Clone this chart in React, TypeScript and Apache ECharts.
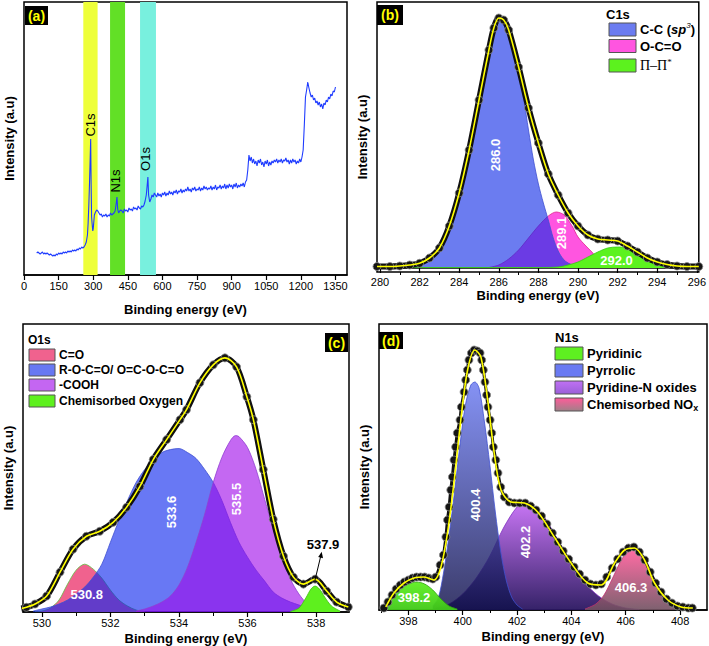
import React, { useEffect, useRef } from "react";
import * as echarts from "echarts";

const FONT = "'Liberation Sans', Arial, Helvetica, sans-serif";

// ---------- (a) survey spectrum ----------
const surveySpectrum: [number, number][] = [
  [55,22],[60,23],[65,22],[70,21],[75,22],[80,23],[85,21],[90,22],[95,21],[100,22],[105,21],[110,20],[115,21],[120,20],[125,19],[130,20],[135,19],[140,21],[145,20],[150,22],[155,21],[160,22],[165,21],[170,23],[175,22],[180,23],[185,22],[190,24],[195,23],[200,24],[205,23],[210,25],[215,24],[220,25],[225,24],[230,26],[235,25],[240,27],[245,26],[250,28],[255,27],[260,28],[265,30],[270,33],[275,40],[278,52],[281,70],[284,92],[287,118],[289,136],[291,90],[293,58],[295,52],[298,44],[300,46],[305,60],[310,63],[315,65],[320,64],[325,62],[330,60],[335,61],[340,58],[345,60],[350,59],[355,61],[360,58],[365,60],[370,59],[375,62],[380,60],[385,61],[390,62],[395,64],[400,72],[403,78],[406,66],[410,62],[415,64],[420,65],[425,64],[430,62],[435,66],[440,64],[445,65],[450,63],[455,67],[460,65],[465,66],[470,64],[475,68],[480,66],[485,67],[490,65],[495,69],[500,67],[505,66],[510,69],[515,68],[520,70],[525,74],[530,80],[534,90],[537,98],[540,80],[545,73],[550,76],[555,80],[560,78],[565,82],[570,80],[575,78],[580,82],[585,79],[590,81],[595,78],[600,82],[605,80],[610,83],[615,79],[620,82],[625,80],[630,84],[635,81],[640,83],[645,80],[650,84],[655,82],[660,85],[665,81],[670,84],[675,83],[680,86],[685,82],[690,85],[695,83],[700,86],[705,84],[710,88],[715,84],[720,86],[725,83],[730,87],[735,85],[740,88],[745,84],[750,86],[755,85],[760,88],[765,84],[770,87],[775,85],[780,89],[785,86],[790,88],[795,85],[800,87],[805,86],[810,89],[815,85],[820,88],[825,86],[830,90],[835,85],[840,88],[845,87],[850,90],[855,86],[860,89],[865,87],[870,91],[875,86],[880,90],[885,87],[890,91],[895,88],[900,90],[905,86],[910,91],[915,88],[920,92],[925,87],[930,90],[935,88],[940,91],[945,89],[950,92],[955,88],[960,93],[965,95],[970,105],[975,120],[980,114],[985,118],[990,112],[995,116],[1000,111],[1005,114],[1010,109],[1015,115],[1020,112],[1025,116],[1030,110],[1035,113],[1040,108],[1045,114],[1050,111],[1055,115],[1060,109],[1065,113],[1070,110],[1075,114],[1080,112],[1085,115],[1090,113],[1095,116],[1100,112],[1105,115],[1110,113],[1115,116],[1120,112],[1125,115],[1130,114],[1135,117],[1140,113],[1145,115],[1150,111],[1155,115],[1160,112],[1165,116],[1170,113],[1175,115],[1180,111],[1185,114],[1190,112],[1195,116],[1200,113],[1205,118],[1210,125],[1215,150],[1220,178],[1225,185],[1230,193],[1235,187],[1240,182],[1245,178],[1250,180],[1255,175],[1260,177],[1265,172],[1270,174],[1275,170],[1280,173],[1285,168],[1290,171],[1295,166],[1300,172],[1305,170],[1310,175],[1315,173],[1320,178],[1325,176],[1330,181],[1335,179],[1340,184],[1345,183],[1350,188]
];
const surveyBands: [number, number][] = [[257, 319], [373, 438], [503, 572]];
const surveyBandNames = ["C1s", "N1s", "O1s"];
const surveyTicks = [0, 150, 300, 450, 600, 750, 900, 1050, 1200, 1350];

// ---------- (b) C1s ----------
const c1sEnvelope: [number, number][] = [
  [279.85,1.5],[280.5,1.5],[281,2],[281.5,3],[282,4.7],[282.5,10],[283,20],[283.5,42],[284,75],[284.5,118],[285,168],[285.5,218],[285.75,240],[286,250],[286.25,248],[286.5,238],[287,201],[287.5,160],[288,125],[288.5,94],[289,73],[289.5,55],[290,42],[290.5,33],[291,29],[291.5,28],[292,27],[292.5,22],[293,16],[293.5,10],[294,6],[294.5,3.5],[295,2],[295.5,1.5],[296.1,1.5]
];
const c1sCC: [number, number][] = [
  [279.85,1],[281,1.5],[282,4],[282.5,9],[283,19],[283.5,41],[284,74],[284.5,117],[285,167],[285.5,216],[286,248],[286.5,234],[287,196],[287.25,170],[287.5,138],[287.75,108],[288,84],[288.25,65],[288.5,48],[288.75,30],[289,17],[289.25,9],[289.5,5],[290,1.5],[290.5,0.5],[296.1,0.5]
];
const c1sOCO: [number, number][] = [
  [285.5,0.5],[286,3],[286.5,9],[287,18],[287.5,30],[288,42],[288.5,52],[288.9,56],[289.3,53],[289.7,42],[290,31],[290.4,22],[290.7,16],[291,9],[291.3,4],[291.6,1],[292,0]
];
const c1sPiPi: [number, number][] = [
  [279.85,0.5],[288,0.5],[289,1],[289.5,3],[290,6],[290.5,11],[291,16],[291.5,20],[292,21],[292.5,20],[293,15],[293.5,8],[294,3],[294.5,1],[295,0.5],[296.1,0.5]
];
const c1sTicks = [280, 282, 284, 286, 288, 290, 292, 294, 296];
const c1sMinorTicks = [281, 283, 285, 287, 289, 291, 293, 295];

// ---------- (c) O1s ----------
const o1sEnvelope: [number, number][] = [
  [529.4,3.5],[529.55,4.7],[529.8,8],[530.14,16],[530.53,40],[530.91,63],[531.3,76],[531.69,81],[532.08,90],[532.47,105],[532.86,126],[533.25,153],[533.64,173],[534.03,193],[534.22,203],[534.61,230],[535.0,248],[535.34,255],[535.68,246],[535.98,216],[536.17,193],[536.46,143],[536.75,93],[537.05,56],[537.34,35],[537.63,28],[537.97,33],[538.31,21],[538.6,10],[538.94,5]
];
const o1sCO: [number, number][] = [
  [529.8,0.5],[530.0,1],[530.25,4],[530.5,12],[530.75,28],[531.0,42],[531.25,48],[531.5,43],[531.75,34],[532.0,22],[532.25,12],[532.5,6],[532.75,2],[533.0,0.5]
];
const o1sROCO: [number, number][] = [
  [529.75,1],[530.0,3],[530.25,5],[530.5,8],[530.75,12],[531.0,18],[531.25,25],[531.5,35],[531.75,48],[532.0,70],[532.25,92],[532.5,112],[532.75,130],[533.0,143],[533.25,153],[533.5,160],[533.75,163],[534.0,164],[534.25,160],[534.5,154],[534.75,143],[535.0,130],[535.25,112],[535.5,90],[535.75,70],[536.0,55],[536.25,42],[536.5,31],[536.75,20],[537.0,14],[537.25,10],[537.5,7],[537.75,4],[538.0,2],[538.25,1]
];
const o1sCOOH: [number, number][] = [
  [532.75,1],[533.0,3],[533.25,6],[533.5,10],[533.75,16],[534.0,27],[534.25,45],[534.5,70],[534.75,98],[535.0,130],[535.25,155],[535.5,172],[535.65,177],[535.75,176],[536.0,165],[536.25,143],[536.5,113],[536.75,83],[537.0,55],[537.25,33],[537.5,18],[537.75,8],[538.0,3],[538.25,1]
];
const o1sChemO: [number, number][] = [
  [537.25,0.5],[537.5,4],[537.7,14],[537.85,23],[537.97,26],[538.1,23],[538.25,15],[538.45,6],[538.7,1]
];
const o1sTicks = [530, 532, 534, 536, 538];
const o1sMinorTicks = [531, 533, 535, 537];

// ---------- (d) N1s ----------
const n1sMeasured: [number, number][] = [
  [397.1,2],[397.25,8],[397.4,15],[397.55,21],[397.7,25],[397.85,28],[398.0,30],[398.15,32],[398.3,33],[398.45,33],[398.6,33],[398.75,32],[398.9,31],[399.01,33],[399.17,45],[399.29,55],[399.38,73],[399.44,90],[399.5,103],[399.56,120],[399.62,133],[399.68,150],[399.74,163],[399.8,177],[399.9,190],[399.95,203],[400.05,218],[400.11,230],[400.17,240],[400.23,250],[400.32,257],[400.42,260],[400.54,259],[400.64,257],[400.7,250],[400.76,240],[400.82,228],[400.88,215],[400.93,203],[401.01,190],[401.07,177],[401.13,163],[401.22,150],[401.3,137],[401.4,123],[401.53,113],[401.71,108],[401.9,107],[402.1,107],[402.3,107],[402.5,104],[402.7,100],[402.9,94],[403.1,86],[403.3,77],[403.5,68],[403.7,59],[403.9,51],[404.1,43],[404.3,36],[404.5,30],[404.7,26],[404.9,25],[405.1,26],[405.3,33],[405.5,42],[405.7,51],[405.9,58],[406.1,62],[406.3,63],[406.5,58],[406.7,50],[406.9,38],[407.1,27],[407.3,18],[407.5,11],[407.7,7],[407.9,4],[408.1,3],[408.3,2],[408.45,2]
];
const n1sFit: [number, number][] = [
  [397.17,3],[397.47,17],[397.84,27],[398.21,32],[398.58,33],[398.95,30],[399.2,43],[399.44,77],[399.69,130],[399.93,190],[400.18,240],[400.45,260],[400.67,253],[400.92,210],[401.16,157],[401.41,120],[401.78,108],[402.27,107],[402.76,98],[403.37,73],[403.99,47],[404.6,27],[405.1,25],[405.59,47],[405.96,60],[406.32,62],[406.69,50],[407.06,27],[407.55,10],[408.04,3],[408.47,2]
];
const n1sPyridinic: [number, number][] = [
  [397.15,10],[397.4,15],[397.7,22],[398.0,26],[398.3,28],[398.6,26],[398.9,20],[399.2,11],[399.5,4],[399.8,1]
];
const n1sPyrrolic: [number, number][] = [
  [398.9,4],[399.1,12],[399.3,38],[399.5,75],[399.7,118],[399.9,165],[400.1,205],[400.3,225],[400.45,228],[400.6,222],[400.8,188],[401.0,145],[401.2,98],[401.4,58],[401.6,30],[401.8,13],[402.0,5],[402.2,1]
];
const n1sOxides: [number, number][] = [
  [399.0,2],[399.5,6],[400.0,16],[400.5,32],[401.0,54],[401.5,82],[402.0,103],[402.3,107],[402.6,104],[403.0,93],[403.5,70],[404.0,47],[404.5,27],[405.0,14],[405.5,6],[406.0,2],[406.5,0.5]
];
const n1sNOx: [number, number][] = [
  [404.5,1],[404.9,6],[405.2,15],[405.5,31],[405.8,48],[406.0,56],[406.3,60],[406.6,55],[406.9,40],[407.2,22],[407.5,10],[407.8,4],[408.2,1]
];
const n1sTicks = [398, 400, 402, 404, 406, 408];
const n1sMinorTicks = [397, 399, 401, 403, 405, 407];

// ---------- layout ----------
const grids = [
  { left: 24, top: 2, width: 323, height: 273 },
  { left: 377, top: 2, width: 326, height: 270 },
  { left: 23, top: 324, width: 326, height: 289 },
  { left: 379, top: 324, width: 328, height: 286 },
];

function xMain(gridIndex: number, min: number, max: number, ticks: number[], nameGap: number, margin = 5) {
  return {
    type: "value", gridIndex, min, max, position: "bottom",
    axisLine: { show: true, lineStyle: { color: "#000", width: 1.5 } },
    axisTick: { show: true, customValues: ticks, length: 5, lineStyle: { color: "#000", width: 1.2 } },
    axisLabel: { show: true, customValues: ticks, margin, color: "#000", fontSize: 11, fontFamily: FONT, formatter: (v: number) => String(v) },
    splitLine: { show: false },
    name: "Binding energy (eV)", nameLocation: "middle", nameGap,
    nameTextStyle: { color: "#000", fontSize: 13, fontWeight: "bold", fontFamily: FONT },
  };
}
function xMinor(gridIndex: number, min: number, max: number, ticks: number[]) {
  return {
    type: "value", gridIndex, min, max, position: "top", offset: -grids[gridIndex].height,
    axisLine: { show: false },
    axisTick: { show: ticks.length > 0, inside: true, customValues: ticks, length: 3, lineStyle: { color: "#000", width: 1 } },
    axisLabel: { show: false }, splitLine: { show: false },
  };
}
function yAxis(gridIndex: number, min: number, max: number) {
  return {
    type: "value", gridIndex, min, max,
    axisLine: { show: false }, axisTick: { show: false }, axisLabel: { show: false }, splitLine: { show: false },
    name: "Intensity (a.u)", nameLocation: "middle", nameGap: 8, nameRotate: 90,
    nameTextStyle: { color: "#000", fontSize: 13, fontWeight: "bold", fontFamily: FONT },
  };
}

function areaSeries(name: string, data: [number, number][], xi: number, yi: number, fill: any, opacity: number, line: string, z: number) {
  return {
    name, type: "line", data, xAxisIndex: xi, yAxisIndex: yi, smooth: 0.3,
    showSymbol: false, silent: true, z,
    lineStyle: { color: line, width: 0.8 },
    areaStyle: { color: fill, opacity },
  };
}
function measuredSeries(data: [number, number][], xi: number, yi: number, lineWidth: number, size: number) {
  return {
    name: "measured", type: "line", data, xAxisIndex: xi, yAxisIndex: yi, smooth: 0.3,
    showSymbol: true, symbol: "circle", symbolSize: size, silent: true, z: 8,
    lineStyle: { color: "#111", width: lineWidth },
    itemStyle: { color: "#151515", borderColor: "#8a8a8a", borderWidth: 0.8 },
  };
}
function fitSeries(data: [number, number][], xi: number, yi: number) {
  return {
    name: "fit", type: "line", data, xAxisIndex: xi, yAxisIndex: yi, smooth: 0.3,
    showSymbol: false, silent: true, z: 9, lineStyle: { color: "#ffff00", width: 1.6 },
  };
}
function grad(top: string, bottom: string) {
  return new echarts.graphic.LinearGradient(0, 0, 0, 1, [
    { offset: 0, color: top }, { offset: 1, color: bottom },
  ]);
}

function tag(x: number, y: number, w: number, h: number, t: string) {
  return {
    type: "group",
    children: [
      { type: "rect", shape: { x, y, width: w, height: h }, style: { fill: "#000" } },
      { type: "text", x: x + w / 2, y: y + h / 2, style: { text: t, fill: "#ffff00", font: `bold 14px ${FONT}`, align: "center", verticalAlign: "middle" } },
    ],
  };
}
function label(x: number, y: number, t: string, rotate: boolean, color = "#fff", size = 13, weight = "bold") {
  return {
    type: "text", x, y, rotation: rotate ? Math.PI / 2 : 0,
    style: { text: t, fill: color, font: `${weight} ${size}px ${FONT}`, align: "center", verticalAlign: "middle" },
    z: 100,
  };
}
function legendItem(x: number, y: number, w: number, h: number, fill: any, text: string, size: number, rich?: any, font?: string) {
  return [
    { type: "rect", shape: { x, y, width: w, height: h }, style: { fill, stroke: "#555", lineWidth: 1 }, z: 100 },
    { type: "text", x: x + w + 4, y: y + h / 2, z: 100,
      style: { text, fill: "#000", font: font || `bold ${size}px ${FONT}`, align: "left", verticalAlign: "middle", rich } },
  ];
}

export default function App() {
  const ref = useRef<HTMLDivElement>(null);
  useEffect(() => {
    if (!ref.current) return;
    const chart = echarts.init(ref.current, null, { renderer: "svg" });
    const bandColors = ["#eeff3a", "#62e026", "#78f0de"];
    const option: any = {
      animation: false,
      backgroundColor: "#fff",
      grid: grids.map((g) => ({ ...g, show: true, borderColor: "#000", borderWidth: 1.5, backgroundColor: "transparent", containLabel: false })),
      xAxis: [
        xMain(0, 0, 1400, surveyTicks, 28), xMinor(0, 0, 1400, []),
        xMain(1, 279.85, 296.1, c1sTicks, 17, 4), xMinor(1, 279.85, 296.1, c1sMinorTicks),
        xMain(2, 529.45, 538.96, o1sTicks, 20), xMinor(2, 529.45, 538.96, o1sMinorTicks),
        xMain(3, 396.92, 408.99, n1sTicks, 20), xMinor(3, 396.92, 408.99, n1sMinorTicks),
      ],
      yAxis: [yAxis(0, 0, 273), yAxis(1, -4, 266), yAxis(2, 0, 289), yAxis(3, 0, 286)],
      series: [
        {
          name: "bands", type: "line", data: surveySpectrum, xAxisIndex: 0, yAxisIndex: 0, showSymbol: false, silent: true, z: 1,
          lineStyle: { opacity: 0, width: 0 },
          markArea: {
            silent: true,
            data: surveyBands.map((b, i) => [
              { name: surveyBandNames[i], xAxis: b[0], itemStyle: { color: bandColors[i], opacity: 1 } },
              { xAxis: b[1] },
            ]),
            label: { show: false },
          },
        },
        {
          name: "survey", type: "line", data: surveySpectrum, xAxisIndex: 0, yAxisIndex: 0, showSymbol: false, silent: true, z: 5,
          lineStyle: { color: "#1f3cff", width: 1.1 },
        },
        // (b)
        areaSeries("O-C=O", c1sOCO, 2, 1, "#ff55e0", 1, "#e0208a", 2),
        areaSeries("C-C (sp3)", c1sCC, 2, 1, "#102ce7", 0.62, "#4050d0", 3),
        areaSeries("π-π*", c1sPiPi, 2, 1, "#5cf21e", 1, "#33cc10", 4),
        measuredSeries(c1sEnvelope, 2, 1, 6, 8),
        fitSeries(c1sEnvelope, 2, 1),
        // (c)
        areaSeries("C=O", o1sCO, 4, 2, "#f0628e", 1, "#60c040", 2),
        areaSeries("R-O-C=O/ O=C-O-C=O", o1sROCO, 4, 2, "#0b25ed", 0.62, "#4050d0", 3),
        areaSeries("-COOH", o1sCOOH, 4, 2, "#a00bea", 0.62, "#9040d0", 4),
        areaSeries("Chemisorbed Oxygen", o1sChemO, 4, 2, "#5ef01e", 1, "#40c010", 5),
        measuredSeries(o1sEnvelope, 4, 2, 6, 8),
        fitSeries(o1sEnvelope, 4, 2),
        // (d)
        areaSeries("Pyridine-N oxides", n1sOxides, 6, 3, grad("#c56ef4", "#2a1660"), 0.95, "#8030c0", 2),
        areaSeries("Pyrrolic", n1sPyrrolic, 6, 3, grad("#6a7af2", "#10104a"), 0.82, "#4050d0", 3),
        areaSeries("Pyridinic", n1sPyridinic, 6, 3, grad("#5ef020", "#40c818"), 0.95, "#30a010", 4),
        areaSeries("Chemisorbed NOx", n1sNOx, 6, 3, grad("#ff5c9a", "#705060"), 0.9, "#c03070", 5),
        measuredSeries(n1sMeasured, 6, 3, 3, 8),
        fitSeries(n1sFit, 6, 3),
      ],
      graphic: [
        tag(25, 6, 23, 19, "(a)"),
        tag(377, 5, 26, 20, "(b)"),
        tag(325, 333, 23, 19, "(c)"),
        tag(379, 332, 24, 17, "(d)"),
        label(90.7, 125, "C1s", true, "#000", 13, "normal"),
        label(115, 181, "N1s", true, "#000", 13, "normal"),
        label(145.7, 159, "O1s", true, "#000", 13, "normal"),
        label(495.7, 155, "286.0", true),
        label(561, 233, "289.1", true),
        label(616.5, 260, "292.0", false),
        label(86.7, 594, "530.8", false),
        label(171.7, 512, "533.6", true),
        label(236.7, 499, "535.5", true),
        label(323, 544, "537.9", false, "#000", 13, "bold"),
        { type: "line", shape: { x1: 315, y1: 580, x2: 321, y2: 555 }, style: { stroke: "#000", lineWidth: 1 }, z: 100 },
        { type: "polygon", shape: { points: [[321.7, 551.7], [323, 558.3], [318.2, 557.1]] }, style: { fill: "#000" }, z: 100 },
        label(475.7, 505, "400.4", true),
        label(525.7, 542, "402.2", true),
        label(414, 597, "398.2", false),
        label(631, 587, "406.3", false),
        // legend (b)
        { type: "text", x: 606, y: 14, z: 100, style: { text: "C1s", fill: "#000", font: `bold 13px ${FONT}`, align: "left", verticalAlign: "middle" } },
        ...legendItem(609, 23, 27, 13, "#6b7cf0", "C-C ({i|sp}{s|3})", 13, {
          i: { fontStyle: "italic", fontWeight: "bold", fontSize: 13, fontFamily: FONT, lineHeight: 16 },
          s: { fontStyle: "italic", fontSize: 8, fontFamily: FONT, verticalAlign: "top", lineHeight: 16 },
        }),
        ...legendItem(609, 39.5, 27, 13, "#ff55e0", "O-C=O", 13),
        ...legendItem(609, 59, 27, 13, "#5cf21e", "Π–Π{s|*}", 14, {
          s: { fontSize: 9, fontFamily: "'Liberation Serif', serif", verticalAlign: "top", lineHeight: 16 },
        }, `14px 'Liberation Serif', 'Times New Roman', serif`),
        // legend (c)
        { type: "text", x: 28, y: 339.5, z: 100, style: { text: "O1s", fill: "#000", font: `bold 12px ${FONT}`, align: "left", verticalAlign: "middle" } },
        ...legendItem(29, 349, 26, 12, "#f0628e", "C=O", 12),
        ...legendItem(29, 364, 26, 12, "#6878f2", "R-O-C=O/ O=C-O-C=O", 12),
        ...legendItem(29, 379, 26, 12, "#c466f2", "-COOH", 12),
        ...legendItem(29, 395, 26, 12, "#5ef01e", "Chemisorbed Oxygen", 12),
        // legend (d)
        { type: "text", x: 555, y: 337, z: 100, style: { text: "N1s", fill: "#000", font: `bold 13px ${FONT}`, align: "left", verticalAlign: "middle" } },
        ...legendItem(555, 347, 28, 13, "#5ef020", "Pyridinic", 13),
        ...legendItem(555, 364, 28, 13, "#6a7af2", "Pyrrolic", 13),
        ...legendItem(555, 381, 28, 13, grad("#c070f4", "#9a60d8"), "Pyridine-N oxides", 13),
        ...legendItem(555, 398, 28, 13, grad("#ff5c9a", "#a08088"), "Chemisorbed NO{sub|x}", 13, {
          sub: { fontSize: 9, fontWeight: "bold", fontFamily: FONT, verticalAlign: "bottom", lineHeight: 16 },
        }),
      ],
    };
    chart.setOption(option);
    return () => chart.dispose();
  }, []);
  return <div ref={ref} style={{ position: "absolute", left: 0, top: 0, width: 709, height: 646 }} />;
}
